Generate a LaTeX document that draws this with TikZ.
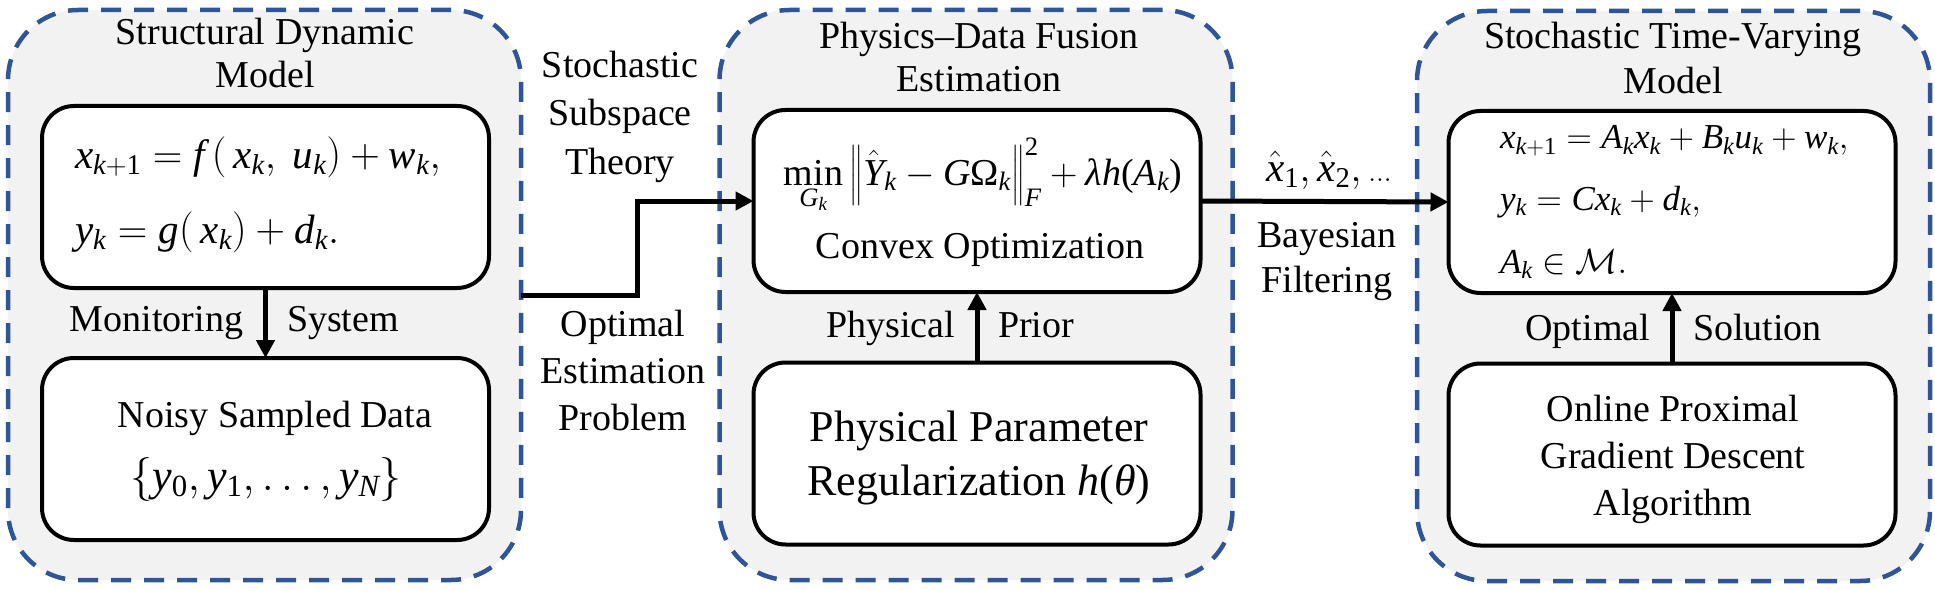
\documentclass[tikz,border=0pt]{standalone}
\usepackage{fix-cm}
\usepackage{amsmath}
\usepackage[no-math]{fontspec}
\setmainfont{Liberation Serif}
\DeclareSymbolFont{tuit}{TU}{\rmdefault}{m}{it}
\DeclareSymbolFont{tuup}{TU}{\rmdefault}{m}{n}
\DeclareMathAlphabet{\mathtu}{TU}{\rmdefault}{m}{n}
\newcount\mycnt
\mycnt=`a
\loop \Umathcode\mycnt=7 \symtuit \mycnt \ifnum\mycnt<`z \advance\mycnt by 1 \repeat
\mycnt=`A
\loop \Umathcode\mycnt=7 \symtuit \mycnt \ifnum\mycnt<`Z \advance\mycnt by 1 \repeat
\mycnt=`0
\loop \Umathcode\mycnt=7 \symtuup \mycnt \ifnum\mycnt<`9 \advance\mycnt by 1 \repeat
\Umathcode`(=4 \symtuup `(
\Umathcode`)=5 \symtuup `)
\Umathchardef\mylambda=0 \symtuit "3BB
\Umathchardef\mytheta=0 \symtuit "3B8
\Umathchardef\myOmega=0 \symtuup "3A9
\newcommand\mymin{\mathop{\mathtu{min}}\limits}
\usetikzlibrary{arrows.meta}
\definecolor{panelblue}{RGB}{47,85,151}
\definecolor{panelgray}{RGB}{242,242,242}
\tikzset{
  panel/.style={draw=panelblue, line width=4.5pt, dash pattern=on 20pt off 13pt,
    fill=panelgray, rounded corners=70pt, minimum width=513pt, minimum height=570pt,
    inner sep=0pt, outer sep=0pt},
  inbox/.style={draw=black, line width=4pt, fill=white, rounded corners=32pt,
    minimum width=447pt, minimum height=182pt, inner sep=0pt, outer sep=0pt},
  conn/.style={line width=5pt, -{Triangle[length=18pt,width=18pt]}},
  txt/.style={inner sep=0pt, outer sep=0pt, anchor=base, font=\fontsize{38}{44}\selectfont},
  bigtxt/.style={txt, font=\fontsize{44}{50}\selectfont},
  eq/.style={inner sep=0pt, outer sep=0pt, anchor=base west, font=\fontsize{41}{48}\selectfont},
}
\begin{document}
\begin{tikzpicture}[x=1pt,y=-1pt]
\useasboundingbox (0,0) rectangle (1935,591);
% panels
\node[panel] (P1) at (264.5,295) {};
\node[panel] (P2) at (976,295) {};
\node[panel] (P3) at (1673.5,296) {};
% inner boxes
\node[inbox] (B1) at (265.5,197) {};
\node[inbox] (B2) at (265.5,449) {};
\node[inbox] (B3) at (977,201) {};
\node[inbox] (B4) at (977,453.5) {};
\node[inbox] (B5) at (1672,202) {};
\node[inbox] (B6) at (1672,454.5) {};
% titles
\node[txt] (t1a) at (265,45) {Structural Dynamic};
\node[txt] (t1b) at (265,88) {Model};
\node[txt] (t2a) at (979,49) {Physics--Data Fusion};
\node[txt] (t2b) at (979,92) {Estimation};
\node[txt] (t3a) at (1673,49) {Stochastic Time-Varying};
\node[txt] (t3b) at (1673,94) {Model};
% connectors
\coordinate (K1) at (637,295);
\draw[conn] (P1.east) -- (K1) |- (B3.west);
\draw[conn] (B3.east) -- (B5.west);
\draw[conn] (B1.south) -- (B2.north);
\draw[conn] (B4.north) -- (B3.south);
\draw[conn] (B6.north) -- (B5.south);
% gap labels
\node[txt] (l1) at (620,78) {Stochastic};
\node[txt] (l2) at (620,126) {Subspace};
\node[txt] (l3) at (620,174) {Theory};
\node[txt] (l4) at (623,336) {Optimal};
\node[txt] (l5) at (623,383) {Estimation};
\node[txt] (l6) at (623,430) {Problem};
\node[eq, anchor=base] (l7) at (1329,181) {$\hat{x}_1, \hat{x}_2, {\scriptstyle\ldots}$};
\node[txt] (l8) at (1327,247) {Bayesian};
\node[txt] (l9) at (1327,292) {Filtering};
% arrow labels
\node[txt, anchor=base east] (m1) at (243,331) {Monitoring};
\node[txt, anchor=base west] (m2) at (287,331) {System};
\node[txt, anchor=base east] (m3) at (955,337) {Physical};
\node[txt, anchor=base west] (m4) at (998,337) {Prior};
\node[txt, anchor=base east] (m5) at (1650,340) {Optimal};
\node[txt, anchor=base west] (m6) at (1693,340) {Solution};
% box 1
\node[eq] (e1) at (75,168) {$x_{k+1} = f\,\big(\,x_k,\ u_k\big) + w_k,$};
\node[eq] (e2) at (75,243) {$y_k = g\big(\,x_k\big) + d_k.$};
% box 2
\node[txt] (n1) at (275,427) {Noisy Sampled Data};
\node[eq, anchor=base, font=\fontsize{44}{52}\selectfont] (n2) at (266,490) {$\big\{y_0, y_1, \ldots, y_N\big\}$};
% box 3
\node[eq, anchor=base, font=\fontsize{38}{44}\selectfont] (f1) at (983,185) {$\mymin_{G_k}\Big\|\hat{Y}_k - G\myOmega_k\Big\|_F^2 + \mylambda h(A_k)$};
\node[txt] (f2) at (980,258) {Convex Optimization};
% box 4
\node[bigtxt] (r1) at (979,441) {Physical Parameter};
\node[bigtxt] (r2) at (979,495) {Regularization $h(\mytheta)$};
% box 5
\node[eq, font=\fontsize{35}{42}\selectfont] (s1) at (1500,149) {$x_{k+1} = A_k x_k + B_k u_k + w_k,$};
\node[eq, font=\fontsize{35}{42}\selectfont] (s2) at (1500,210) {$y_k = Cx_k + d_k,$};
\node[eq, font=\fontsize{35}{42}\selectfont] (s3) at (1500,273) {$A_k \in \mathcal{M}.$};
% box 6
\node[txt] (o1) at (1673,421) {Online Proximal};
\node[txt] (o2) at (1673,468) {Gradient Descent};
\node[txt] (o3) at (1673,515) {Algorithm};
\end{tikzpicture}
\end{document}
